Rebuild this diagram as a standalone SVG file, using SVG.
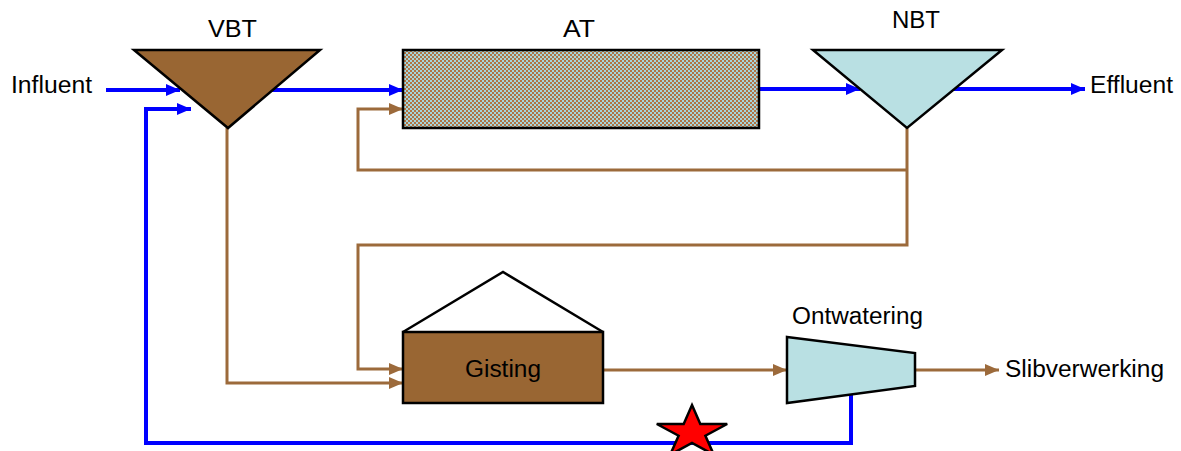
<svg xmlns="http://www.w3.org/2000/svg" width="1181" height="451" viewBox="0 0 1181 451">
<style>
.lbl{font-family:"Liberation Sans",Arial,sans-serif;font-size:23px;fill:#000}
.blue{fill:none;stroke:#0000ff;stroke-width:4}
.brown{fill:none;stroke:#9c6a3b;stroke-width:3}
.shape{stroke:#000;stroke-width:2.5}
</style>
<defs>
<pattern id="chk" width="4" height="4" patternUnits="userSpaceOnUse">
<rect width="4" height="4" fill="#a6d6dc"/>
<rect x="0" y="0" width="2" height="2" fill="#b07444"/>
<rect x="2" y="2" width="2" height="2" fill="#b07444"/>
</pattern>
<marker id="ab" viewBox="0 0 14 12" refX="14" refY="6" markerWidth="14" markerHeight="12" markerUnits="userSpaceOnUse" orient="auto">
<path d="M0,0 L14,6 L0,12 Z" fill="#0000ff"/>
</marker>
<marker id="ar" viewBox="0 0 14 12" refX="14" refY="6" markerWidth="14" markerHeight="12" markerUnits="userSpaceOnUse" orient="auto">
<path d="M0,0 L14,6 L0,12 Z" fill="#9c6a3b"/>
</marker>
</defs>
<rect width="1181" height="451" fill="#fff"/>
<g id="connectors">
<path class="blue" d="M106,90 L180,90" marker-end="url(#ab)"/>
<path class="blue" d="M268,90 L403,90" marker-end="url(#ab)"/>
<path class="blue" d="M759,89 L860,89" marker-end="url(#ab)"/>
<path class="blue" d="M953,89 L1085,89" marker-end="url(#ab)"/>
<path class="blue" d="M851,395 L851,443 L146,443 L146,109 L191,109" marker-end="url(#ab)"/>
<path class="brown" d="M227,128 L227,383 L403,383" marker-end="url(#ar)"/>
<path class="brown" d="M907,128 L907,245 L358,245 L358,369 L403,369" marker-end="url(#ar)"/>
<path class="brown" d="M907,170 L358,170 L358,109 L403,109" marker-end="url(#ar)"/>
<path class="brown" d="M603,370 L787,370" marker-end="url(#ar)"/>
<path class="brown" d="M915,370 L999,370" marker-end="url(#ar)"/>
</g>
<g id="vbt">
<polygon class="shape" points="134,50 320,50 228,128" fill="#996633"/>
<text class="lbl" x="208" y="37" textLength="49" lengthAdjust="spacingAndGlyphs">VBT</text>
</g>
<g id="at">
<rect class="shape" x="403" y="50" width="356" height="78" fill="url(#chk)"/>
<text class="lbl" x="563" y="37" textLength="32" lengthAdjust="spacingAndGlyphs">AT</text>
</g>
<g id="nbt">
<polygon class="shape" points="813,50 1002,50 907,128" fill="#b9e0e3"/>
<text class="lbl" x="892" y="28" textLength="48" lengthAdjust="spacingAndGlyphs">NBT</text>
</g>
<g id="influent">
<text class="lbl" x="11" y="93" textLength="81" lengthAdjust="spacingAndGlyphs">Influent</text>
</g>
<g id="effluent">
<text class="lbl" x="1090" y="93" textLength="83" lengthAdjust="spacingAndGlyphs">Effluent</text>
</g>
<g id="gisting">
<polyline points="403,332 503,272 603,332" fill="none" stroke="#000" stroke-width="2.5"/>
<rect class="shape" x="403" y="332" width="200" height="71" fill="#996633"/>
<text class="lbl" x="465" y="377" textLength="76" lengthAdjust="spacingAndGlyphs">Gisting</text>
</g>
<g id="ontwatering">
<polygon class="shape" points="787,337 915,353 915,386 787,403" fill="#b9e0e3"/>
<text class="lbl" x="792" y="324" textLength="131" lengthAdjust="spacingAndGlyphs">Ontwatering</text>
</g>
<g id="slibverwerking">
<text class="lbl" x="1005" y="377" textLength="159" lengthAdjust="spacingAndGlyphs">Slibverwerking</text>
</g>
<g id="star">
<polygon points="692,405 700.3,424 727.2,424 705.4,435.7 713.8,454.7 692,443 670.2,454.7 678.6,435.7 656.8,424 683.7,424" fill="#ff0000" stroke="#000" stroke-width="2.5" stroke-linejoin="miter"/>
</g>
</svg>
